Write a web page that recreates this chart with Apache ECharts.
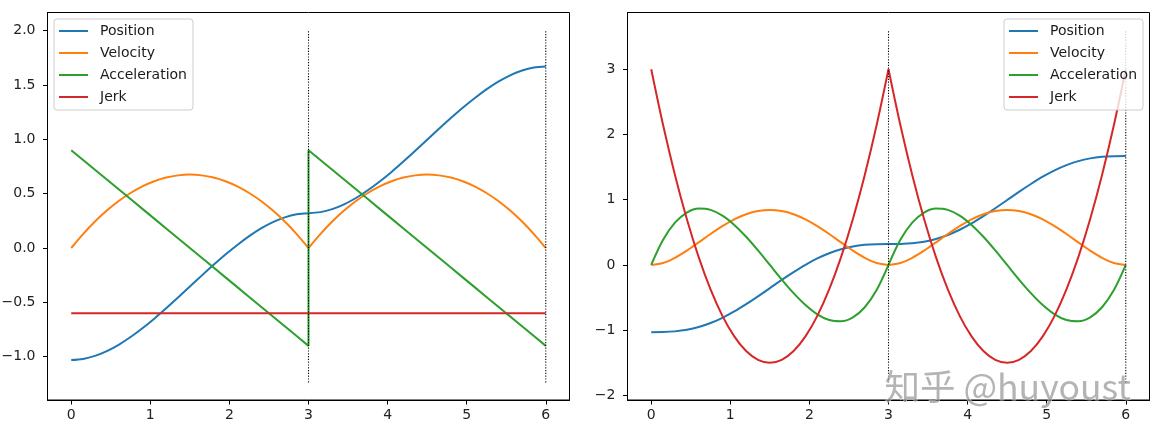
<!DOCTYPE html>
<html>
<head>
<meta charset="utf-8">
<script src="https://cdn.jsdelivr.net/npm/echarts@6/dist/echarts.min.js"></script>
<style>
html,body{margin:0;padding:0;background:#fff;}
#chart{width:1160px;height:440px;}
</style>
</head>
<body>
<div id="chart"></div>
<script>
// time samples: segment [0,3] then segment [3,6]
const t = [0,0.15,0.3,0.45,0.6,0.75,0.9,1.05,1.2,1.35,1.5,1.65,1.8,1.95,2.1,2.25,2.4,2.55,2.7,2.85,3.0,
           3.0,3.15,3.3,3.45,3.6,3.75,3.9,4.05,4.2,4.35,4.5,4.65,4.8,4.95,5.1,5.25,5.4,5.55,5.7,5.85,6.0];
const segLen = 21;

const seriesNames = ['Position','Velocity','Acceleration','Jerk'];
const colors = ['#1f77b4','#ff7f0e','#2ca02c','#d62728'];

// Left panel
const posL = [-1.030,-1.020,-0.992,-0.948,-0.890,-0.819,-0.738,-0.650,-0.555,-0.456,-0.355,-0.254,-0.155,-0.060,0.028,0.109,0.180,0.238,0.282,0.310,0.320,
              0.320,0.330,0.358,0.402,0.460,0.531,0.612,0.700,0.795,0.894,0.995,1.096,1.195,1.290,1.378,1.459,1.530,1.588,1.632,1.660,1.670];
const velL = [0,0.128,0.243,0.344,0.432,0.506,0.567,0.614,0.648,0.668,0.675,0.668,0.648,0.614,0.567,0.506,0.432,0.344,0.243,0.128,0,
              0,0.128,0.243,0.344,0.432,0.506,0.567,0.614,0.648,0.668,0.675,0.668,0.648,0.614,0.567,0.506,0.432,0.344,0.243,0.128,0];
const accL = [0.9,0.81,0.72,0.63,0.54,0.45,0.36,0.27,0.18,0.09,0,-0.09,-0.18,-0.27,-0.36,-0.45,-0.54,-0.63,-0.72,-0.81,-0.9,
              0.9,0.81,0.72,0.63,0.54,0.45,0.36,0.27,0.18,0.09,0,-0.09,-0.18,-0.27,-0.36,-0.45,-0.54,-0.63,-0.72,-0.81,-0.9];
const jerkL = [-0.6,-0.6,-0.6,-0.6,-0.6,-0.6,-0.6,-0.6,-0.6,-0.6,-0.6,-0.6,-0.6,-0.6,-0.6,-0.6,-0.6,-0.6,-0.6,-0.6,-0.6,
               -0.6,-0.6,-0.6,-0.6,-0.6,-0.6,-0.6,-0.6,-0.6,-0.6,-0.6,-0.6,-0.6,-0.6,-0.6,-0.6,-0.6,-0.6,-0.6,-0.6,-0.6];

// Right panel
const posR = [-1.030,-1.028,-1.018,-0.994,-0.952,-0.890,-0.810,-0.713,-0.601,-0.481,-0.355,-0.229,-0.109,0.003,0.100,0.180,0.242,0.284,0.308,0.318,0.320,
              0.320,0.322,0.332,0.356,0.398,0.460,0.540,0.637,0.749,0.869,0.995,1.121,1.241,1.353,1.450,1.530,1.592,1.634,1.658,1.668,1.670];
const velR = [0,0.030,0.109,0.219,0.346,0.475,0.595,0.699,0.778,0.827,0.844,0.827,0.778,0.699,0.595,0.475,0.346,0.219,0.109,0.030,0,
              0,0.030,0.109,0.219,0.346,0.475,0.595,0.699,0.778,0.827,0.844,0.827,0.778,0.699,0.595,0.475,0.346,0.219,0.109,0.030,0];
const accR = [0,0.385,0.648,0.803,0.864,0.844,0.756,0.614,0.432,0.223,0,-0.223,-0.432,-0.614,-0.756,-0.844,-0.864,-0.803,-0.648,-0.385,0,
              0,0.385,0.648,0.803,0.864,0.844,0.756,0.614,0.432,0.223,0,-0.223,-0.432,-0.614,-0.756,-0.844,-0.864,-0.803,-0.648,-0.385,0];
const jerkR = [3,2.145,1.38,0.705,0.12,-0.375,-0.78,-1.095,-1.32,-1.455,-1.5,-1.455,-1.32,-1.095,-0.78,-0.375,0.12,0.705,1.38,2.145,3,
               3,2.145,1.38,0.705,0.12,-0.375,-0.78,-1.095,-1.32,-1.455,-1.5,-1.455,-1.32,-1.095,-0.78,-0.375,0.12,0.705,1.38,2.145,3];

// dotted vertical markers
const vlineX = [3, 6];
const vlineRangeL = [-1.236, 2.004];
const vlineRangeR = [-1.8, 3.6];

// ticks
const xTicks = [0,1,2,3,4,5,6];
const yTicksL = [-1.0,-0.5,0.0,0.5,1.0,1.5,2.0];
const yTicksR = [-2,-1,0,1,2,3];
const watermark = '知乎 @huyoust';

const FONT = 'DejaVu Sans';
const FS = 14;
const minus = s => s.replace('-', '\u2212');

function lineSeries(gi, k, data, smooth) {
  return {
    type: 'line', name: seriesNames[k], xAxisIndex: gi, yAxisIndex: gi,
    data: data, showSymbol: false, symbol: 'none', smooth: smooth ? 0.33 : false,
    lineStyle: { color: colors[k], width: 2 }, itemStyle: { color: colors[k] },
    animation: false, silent: true
  };
}

function panelSeries(gi, arrs, vr, smoothFlags) {
  const out = [];
  arrs.forEach((arr, k) => {
    const pts = t.map((x, i) => [x, arr[i]]);
    if (smoothFlags[k]) {
      // each segment smoothed separately so the joins at t=3 stay sharp
      out.push(lineSeries(gi, k, pts.slice(0, segLen), true));
      out.push(lineSeries(gi, k, pts.slice(segLen), true));
    } else {
      out.push(lineSeries(gi, k, pts, false));
    }
  });
  vlineX.forEach(x => out.push({
    type: 'line', xAxisIndex: gi, yAxisIndex: gi,
    data: [[x, vr[0]], [x, vr[1]]],
    showSymbol: false, symbol: 'none',
    lineStyle: { color: '#000', width: 1.1, type: [1.2, 1.6] },
    animation: false, silent: true
  }));
  return out;
}

function xAxis(gi) {
  return {
    type: 'value', gridIndex: gi, min: -0.3, max: 6.3,
    axisLine: { show: true, onZero: false, lineStyle: { color: '#000', width: 1 } },
    splitLine: { show: false },
    axisTick: { show: true, length: 4.5, lineStyle: { color: '#000', width: 1 }, customValues: xTicks },
    axisLabel: { customValues: xTicks, fontFamily: FONT, fontSize: FS, color: '#222', margin: 8,
                 formatter: v => String(v) }
  };
}
function yAxis(gi, min, max, ticks, digits) {
  return {
    type: 'value', gridIndex: gi, min: min, max: max,
    axisLine: { show: true, onZero: false, lineStyle: { color: '#000', width: 1 } },
    splitLine: { show: false },
    axisTick: { show: true, length: 4.5, lineStyle: { color: '#000', width: 1 }, customValues: ticks },
    axisLabel: { customValues: ticks, fontFamily: FONT, fontSize: FS, color: '#222', margin: 12,
                 formatter: v => minus(Number(v).toFixed(digits)) }
  };
}
function legend(pos) {
  return Object.assign({
    orient: 'vertical', top: 19, data: seriesNames,
    icon: 'rect', itemWidth: 29, itemHeight: 2, itemGap: 6,
    padding: [4, 6, 5, 5],
    backgroundColor: 'rgba(255,255,255,0.8)', borderColor: '#cccccc', borderWidth: 1, borderRadius: 3,
    selectedMode: false,
    textStyle: { fontFamily: FONT, fontSize: FS, color: '#1a1a1a', lineHeight: 16, padding: [0, 0, 0, 7] }
  }, pos);
}

const chart = echarts.init(document.getElementById('chart'), null, { renderer: 'canvas' });
chart.setOption({
  animation: false,
  backgroundColor: '#fff',
  grid: [
    { left: 47.5, top: 12.5, width: 522, height: 387.5, show: true, borderColor: '#000', borderWidth: 1, backgroundColor: 'transparent', outerBoundsMode: 'none' },
    { left: 627.5, top: 12.5, width: 522, height: 387.5, show: true, borderColor: '#000', borderWidth: 1, backgroundColor: 'transparent', outerBoundsMode: 'none' }
  ],
  xAxis: [xAxis(0), xAxis(1)],
  yAxis: [yAxis(0, -1.398, 2.166, yTicksL, 1), yAxis(1, -2.07, 3.87, yTicksR, 0)],
  legend: [legend({ left: 54 }), legend({ right: 17 })],
  series: panelSeries(0, [posL, velL, accL, jerkL], vlineRangeL, [true, true, false, false])
    .concat(panelSeries(1, [posR, velR, accR, jerkR], vlineRangeR, [true, true, true, true])),
  graphic: [{
    type: 'text', left: 884, top: 368, z: 100, silent: true,
    style: { text: watermark, fontFamily: '"Noto Sans CJK SC", "DejaVu Sans"', fontSize: 35.5,
             fill: 'rgba(140,140,140,0.65)', stroke: 'rgba(255,255,255,0.6)', lineWidth: 1 }
  }]
});
</script>
</body>
</html>
